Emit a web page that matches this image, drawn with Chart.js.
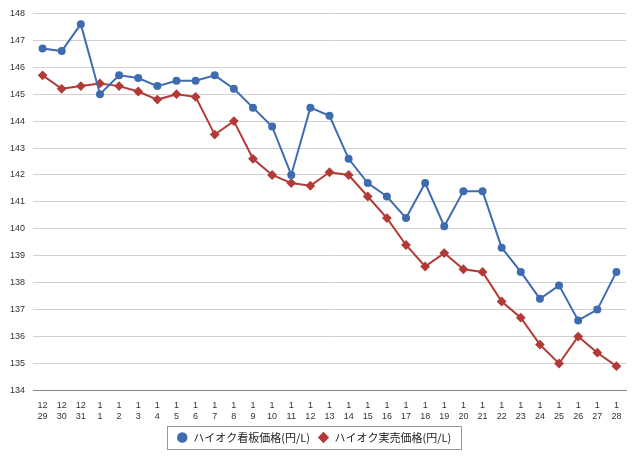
<!DOCTYPE html>
<html>
<head>
<meta charset="utf-8">
<script src="https://cdn.jsdelivr.net/npm/chart.js@4"></script>
<style>
  html, body { margin: 0; padding: 0; background: #fff; }
  #wrap { width: 640px; height: 459px; }
</style>
</head>
<body>
<div id="wrap"><canvas id="c" width="640" height="459"></canvas></div>
<script>
const months = ['12','12','12','1','1','1','1','1','1','1','1','1','1','1','1','1','1','1','1','1','1','1','1','1','1','1','1','1','1','1','1'];
const days = ['29','30','31','1','2','3','4','5','6','7','8','9','10','11','12','13','14','15','16','17','18','19','20','21','22','23','24','25','26','27','28'];
const signPrice = [146.7,146.6,147.6,145.0,145.7,145.6,145.3,145.5,145.5,145.7,145.2,144.5,143.8,142.0,144.5,144.2,142.6,141.7,141.2,140.4,141.7,140.1,141.4,141.4,139.3,138.4,137.4,137.9,136.6,137.0,138.4];
const actualPrice = [145.7,145.2,145.3,145.4,145.3,145.1,144.8,145.0,144.9,143.5,144.0,142.6,142.0,141.7,141.6,142.1,142.0,141.2,140.4,139.4,138.6,139.1,138.5,138.4,137.3,136.7,135.7,135.0,136.0,135.4,134.9];

const labels = months.map((m, i) => [m, days[i]]);

const legendBox = {
  id: 'legendBox',
  afterDraw(chart) {
    const l = chart.legend;
    if (!l || !l.legendHitBoxes.length) return;
    const hb = l.legendHitBoxes;
    const x0 = hb[0].left - 10;
    const last = hb[hb.length - 1];
    const x1 = last.left + last.width + 10;
    const ctx = chart.ctx;
    ctx.save();
    ctx.strokeStyle = '#999';
    ctx.lineWidth = 1;
    ctx.strokeRect(Math.round(x0) + 0.5, Math.round(hb[0].top - 6) + 0.5, Math.round(x1 - x0), Math.round(hb[0].height + 12));
    ctx.restore();
  }
};

new Chart(document.getElementById('c').getContext('2d'), {
  type: 'line',
  data: {
    labels,
    datasets: [
      { label: 'ハイオク看板価格(円/L)', data: signPrice, borderColor: '#3f6cb0', backgroundColor: '#3f6cb0',
        borderWidth: 2, pointStyle: 'circle', pointRadius: 3, tension: 0 },
      { label: 'ハイオク実売価格(円/L)', data: actualPrice, borderColor: '#b33a37', backgroundColor: '#b33a37',
        borderWidth: 2, pointStyle: 'rectRot', pointRadius: 3.5, tension: 0 }
    ]
  },
  options: {
    responsive: false,
    animation: false,
    layout: { padding: { left: 2, right: 14, top: 4, bottom: 6 } },
    plugins: {
      legend: {
        position: 'bottom',
        labels: { usePointStyle: true, boxWidth: 30, boxHeight: 6, padding: 8, color: '#222',
          font: { family: 'Noto Sans CJK JP', size: 11 } }
      },
      tooltip: { enabled: false }
    },
    scales: {
      x: {
        offset: true,
        grid: { display: false },
        border: { color: '#888' },
        ticks: { autoSkip: false, maxRotation: 0, padding: 2, color: '#333', font: { family: 'Arial, Liberation Sans', size: 9 } }
      },
      y: {
        min: 134, max: 148,
        border: { display: false },
        grid: { color: '#d0d0d0', drawTicks: false },
        ticks: { stepSize: 1, padding: 8, color: '#333', font: { family: 'Arial, Liberation Sans', size: 9 } }
      }
    }
  },
  plugins: [legendBox]
});
</script>
</body>
</html>
